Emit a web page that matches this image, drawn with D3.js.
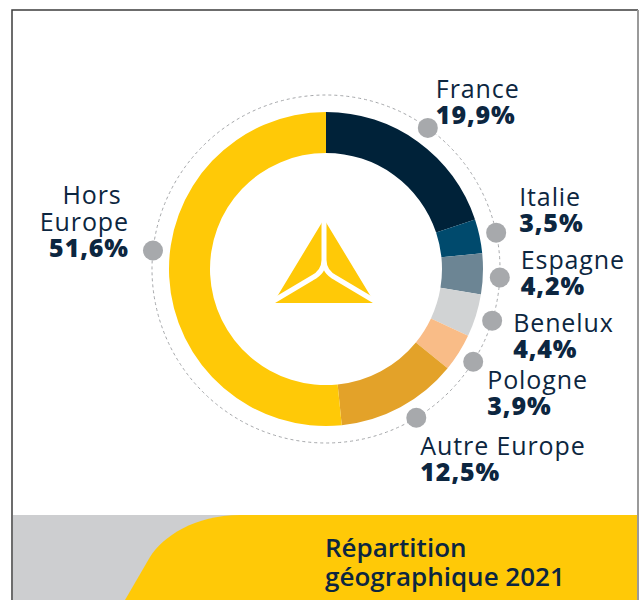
<!DOCTYPE html>
<html>
<head>
<meta charset="utf-8">
<script src="https://cdn.jsdelivr.net/npm/d3@7"></script>
<style>
	body { margin: 0; background: #fff; }
	svg { display: block; font-family: "Open Sans", "Noto Sans", sans-serif; }
</style>
</head>
<body>
<svg id="chart" width="639" height="600"></svg>
<script>
// data
var regions = ['France', 'Italie', 'Espagne', 'Benelux', 'Pologne', 'Autre Europe', 'Hors Europe'];
var shares = [19.9, 3.5, 4.2, 4.4, 3.9, 12.5, 51.6];
var shareLabels = ['19,9%', '3,5%', '4,2%', '4,4%', '3,9%', '12,5%', '51,6%'];
var regionColors = ['#002239', '#004a6d', '#6c8594', '#d1d3d4', '#f9bc87', '#e3a229', '#ffc907'];
var titleLines = ['Répartition', 'géographique 2021'];

// label placement, relative to the dot on the dashed circle
var labelLayout = {
	'France':       { nudge: 0,  dx: 8,   dy: -30, anchor: 'start', lines: ['France'] },
	'Italie':       { nudge: 0,  dx: 23,  dy: -27, anchor: 'start', lines: ['Italie'] },
	'Espagne':      { nudge: 1,  dx: 21,  dy: -8,  anchor: 'start', lines: ['Espagne'] },
	'Benelux':      { nudge: 0,  dx: 21,  dy: 11,  anchor: 'start', lines: ['Benelux'] },
	'Pologne':      { nudge: 0,  dx: 14,  dy: 27,  anchor: 'start', lines: ['Pologne'] },
	'Autre Europe': { nudge: -3, dx: 4,   dy: 37,  anchor: 'start', lines: ['Autre Europe'] },
	'Hors Europe':  { nudge: 9,  dx: -24, dy: -46, anchor: 'end',   lines: ['Hors\u00a0', 'Europe'] }
};

const Chart = {
	cx: 326, cy: 269,
	outer: 157, inner: 116, dotRadius: 174,
	textColor: '#0c2640',

	draw: function() {
		var svg = d3.select('#chart');
		this.drawFrame(svg);
		this.drawBanner(svg);
		this.drawDonut(svg);
		this.drawLogo(svg);
		this.drawLabels(svg);
	},
	drawFrame: function(svg) {
		svg.append('path')
			.attr('d', 'M12,600 V10 H638')
			.attr('fill', 'none')
			.attr('stroke', '#3d3d3d')
			.attr('stroke-width', 1.5);
		svg.append('line')
			.attr('x1', 638).attr('x2', 638).attr('y1', 10).attr('y2', 600)
			.attr('stroke', '#9a9a9a')
			.attr('stroke-width', 2);
	},
	drawBanner: function(svg) {
		svg.append('rect')
			.attr('x', 13).attr('y', 515)
			.attr('width', 624).attr('height', 85)
			.attr('fill', '#cdced0');
		svg.append('path')
			.attr('d', 'M240,515 H637 V600 H125 L150,557 C162,537 195,515 240,515 Z')
			.attr('fill', '#ffc907');
		svg.append('text')
			.attr('x', 325).attr('y', 557)
			.attr('fill', this.textColor)
			.attr('font-size', 26)
			.attr('font-weight', 600)
			.selectAll('tspan')
			.data(titleLines)
			.enter()
			.append('tspan')
			.attr('x', 325)
			.attr('dy', function(d, i) { return i == 0 ? 0 : 29; })
			.text(function(d) { return d; });
	},
	drawDonut: function(svg) {
		var data = regions.map(function(r, i) { return { name: r, value: shares[i], label: shareLabels[i], color: regionColors[i] }; });
		var pie = d3.pie().sort(null).value(function(d) { return d.value; });
		var arc = d3.arc().innerRadius(this.inner).outerRadius(this.outer);
		this.arcs = pie(data);

		var g = svg.append('g').attr('transform', 'translate(' + this.cx + ',' + this.cy + ')');

		g.append('circle')
			.attr('r', this.dotRadius)
			.attr('fill', 'none')
			.attr('stroke', '#a5a7aa')
			.attr('stroke-width', 1)
			.attr('stroke-dasharray', '3,3');

		g.selectAll('path.slice')
			.data(this.arcs)
			.enter()
			.append('path')
			.attr('class', 'slice')
			.attr('d', arc)
			.attr('fill', function(d) { return d.data.color; });
	},
	drawLogo: function(svg) {
		var g = svg.append('g');
		g.append('path')
			.attr('d', 'M324,221 L373,302 L275,302 Z')
			.attr('fill', '#ffc907')
			.attr('stroke', '#ffc907')
			.attr('stroke-width', 2)
			.attr('stroke-linejoin', 'round');
		g.append('path')
			.attr('d', 'M324,212 V260 Q324,272 312,278 L265,306 M324,260 Q324,272 336,278 L383,306')
			.attr('fill', 'none')
			.attr('stroke', '#fff')
			.attr('stroke-width', 5);
	},
	drawLabels: function(svg) {
		var self = this;
		var points = this.arcs.map(function(a) {
			var lay = labelLayout[a.data.name];
			var angle = (a.startAngle + a.endAngle) / 2 + lay.nudge * Math.PI / 180;
			return {
				d: a.data,
				lay: lay,
				x: self.cx + self.dotRadius * Math.sin(angle),
				y: self.cy - self.dotRadius * Math.cos(angle)
			};
		});

		svg.selectAll('circle.dot')
			.data(points)
			.enter()
			.append('circle')
			.attr('class', 'dot')
			.attr('cx', function(p) { return p.x; })
			.attr('cy', function(p) { return p.y; })
			.attr('r', 10)
			.attr('fill', '#a7a9ac');

		svg.selectAll('text.label')
			.data(points)
			.enter()
			.append('text')
			.attr('class', 'label')
			.attr('fill', self.textColor)
			.attr('font-size', 25)
			.attr('letter-spacing', 0.9)
			.attr('text-anchor', function(p) { return p.lay.anchor; })
			.each(function(p) {
				var t = d3.select(this);
				var x = p.x + p.lay.dx;
				var y = p.y + p.lay.dy;
				p.lay.lines.forEach(function(line, i) {
					t.append('tspan').attr('x', x).attr('y', y + i * 27).text(line);
				});
				t.append('tspan')
					.attr('x', x)
					.attr('y', y + p.lay.lines.length * 27 - 1)
					.attr('font-weight', 800)
					.text(p.d.label);
			});
	}
};

Chart.draw();
</script>
</body>
</html>
